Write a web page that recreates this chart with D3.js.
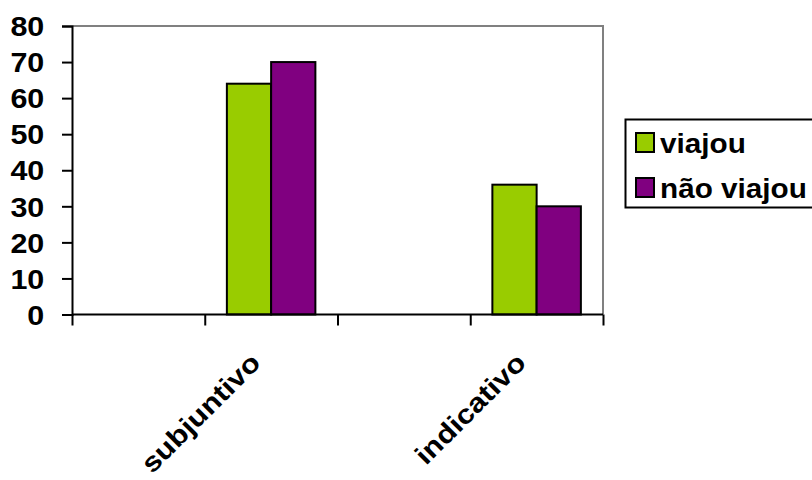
<!DOCTYPE html>
<html>
<head>
<meta charset="utf-8">
<script src="https://cdnjs.cloudflare.com/ajax/libs/d3/7.8.5/d3.min.js"></script>
<style>
  html, body { margin: 0; padding: 0; background: #fff; }
  svg { display: block; }
  text { font-family: "Liberation Sans", Arial, sans-serif; font-weight: bold; fill: #000; }
</style>
</head>
<body>
<svg id="chart" width="812" height="480"></svg>
<script>
// Categories along the x axis (blank slots are empty categories)
const categories = ["", "subjuntivo", "", "indicativo"];
// Series
const seriesNames = ["viajou", "não viajou"];
const viajou = [null, 64, null, 36];
const naoViajou = [null, 70, null, 30];
const seriesColors = ["#99CC00", "#800080"];
// Y axis ticks
const yTicks = [0, 10, 20, 30, 40, 50, 60, 70, 80];

const svg = d3.select("#chart");
svg.append("rect").attr("width", 812).attr("height", 480).attr("fill", "#fff");

const plot = { left: 72, right: 603, top: 26, bottom: 314.5 };
const fontPx = 27;
const stretch = 1.13;

const x0 = d3.scaleBand()
  .domain(d3.range(categories.length))
  .range([plot.left, plot.right])
  .paddingInner(0).paddingOuter(0);

const x1 = d3.scaleBand()
  .domain(d3.range(seriesNames.length))
  .range([0, x0.bandwidth()])
  .paddingInner(0).paddingOuter(0.5);

const y = d3.scaleLinear().domain([0, 80]).range([plot.bottom, plot.top]);

// Plot frame: grey top and right borders
svg.append("path")
  .attr("d", `M${plot.left},${plot.top}H${plot.right}V${plot.bottom}`)
  .attr("fill", "none").attr("stroke", "#808080").attr("stroke-width", 2);

// Bars
const values = [viajou, naoViajou];
const bars = [];
categories.forEach((c, i) => {
  values.forEach((vals, s) => {
    if (vals[i] != null) bars.push({ i, s, v: vals[i] });
  });
});
svg.append("g").selectAll("rect").data(bars).join("rect")
  .attr("x", d => x0(d.i) + x1(d.s))
  .attr("y", d => y(d.v))
  .attr("width", x1.bandwidth())
  .attr("height", d => y(0) - y(d.v))
  .attr("fill", d => seriesColors[d.s])
  .attr("stroke", "#000").attr("stroke-width", 2);

// Y axis
const yAxis = svg.append("g")
  .attr("transform", `translate(${plot.left},0)`)
  .call(d3.axisLeft(y).tickValues(yTicks).tickSize(10).tickPadding(0));
yAxis.select(".domain").attr("stroke", "#000").attr("stroke-width", 2);
yAxis.selectAll(".tick line").attr("stroke", "#000").attr("stroke-width", 2);
yAxis.selectAll(".tick text")
  .attr("font-size", fontPx)
  .attr("font-family", null)
  .attr("x", -24.5)
  .attr("dy", "0.36em")
  .attr("transform", `scale(${stretch},1)`);

// X axis: tick marks on category boundaries
const xEdges = d3.scaleLinear().domain([0, categories.length]).range([plot.left, plot.right]);
const xAxis = svg.append("g")
  .attr("transform", `translate(0,${plot.bottom})`)
  .call(d3.axisBottom(xEdges).ticks(categories.length).tickSize(11).tickFormat(""));
xAxis.select(".domain").attr("stroke", "#000").attr("stroke-width", 2).attr("d", `M${plot.left},0H${plot.right}`);
xAxis.selectAll(".tick line").attr("stroke", "#000").attr("stroke-width", 2);

// X axis: rotated category labels
const xLabels = svg.append("g")
  .attr("transform", `translate(0,${plot.bottom})`)
  .call(d3.axisBottom(x0).tickSize(0).tickFormat(i => categories[i]));
xLabels.select(".domain").remove();
xLabels.selectAll(".tick text")
  .attr("font-size", fontPx)
  .attr("font-family", null)
  .attr("x", 0).attr("y", 0).attr("dy", 0)
  .attr("text-anchor", "end")
  .attr("transform", `translate(-9,50) rotate(-45) scale(1.14,1)`);

// Legend
const legend = svg.append("g");
legend.append("rect")
  .attr("x", 625.5).attr("y", 119.5).attr("width", 220).attr("height", 88)
  .attr("fill", "#fff").attr("stroke", "#000").attr("stroke-width", 2);
const rowY = [133, 178];
seriesNames.forEach((name, s) => {
  legend.append("rect")
    .attr("x", 636).attr("y", rowY[s]).attr("width", 18).attr("height", 19)
    .attr("fill", seriesColors[s]).attr("stroke", "#000").attr("stroke-width", 2);
  legend.append("text")
    .attr("transform", `translate(660,${rowY[s] + 19.5}) scale(1.1,1)`)
    .attr("font-size", fontPx)
    .text(name);
});
</script>
</body>
</html>
